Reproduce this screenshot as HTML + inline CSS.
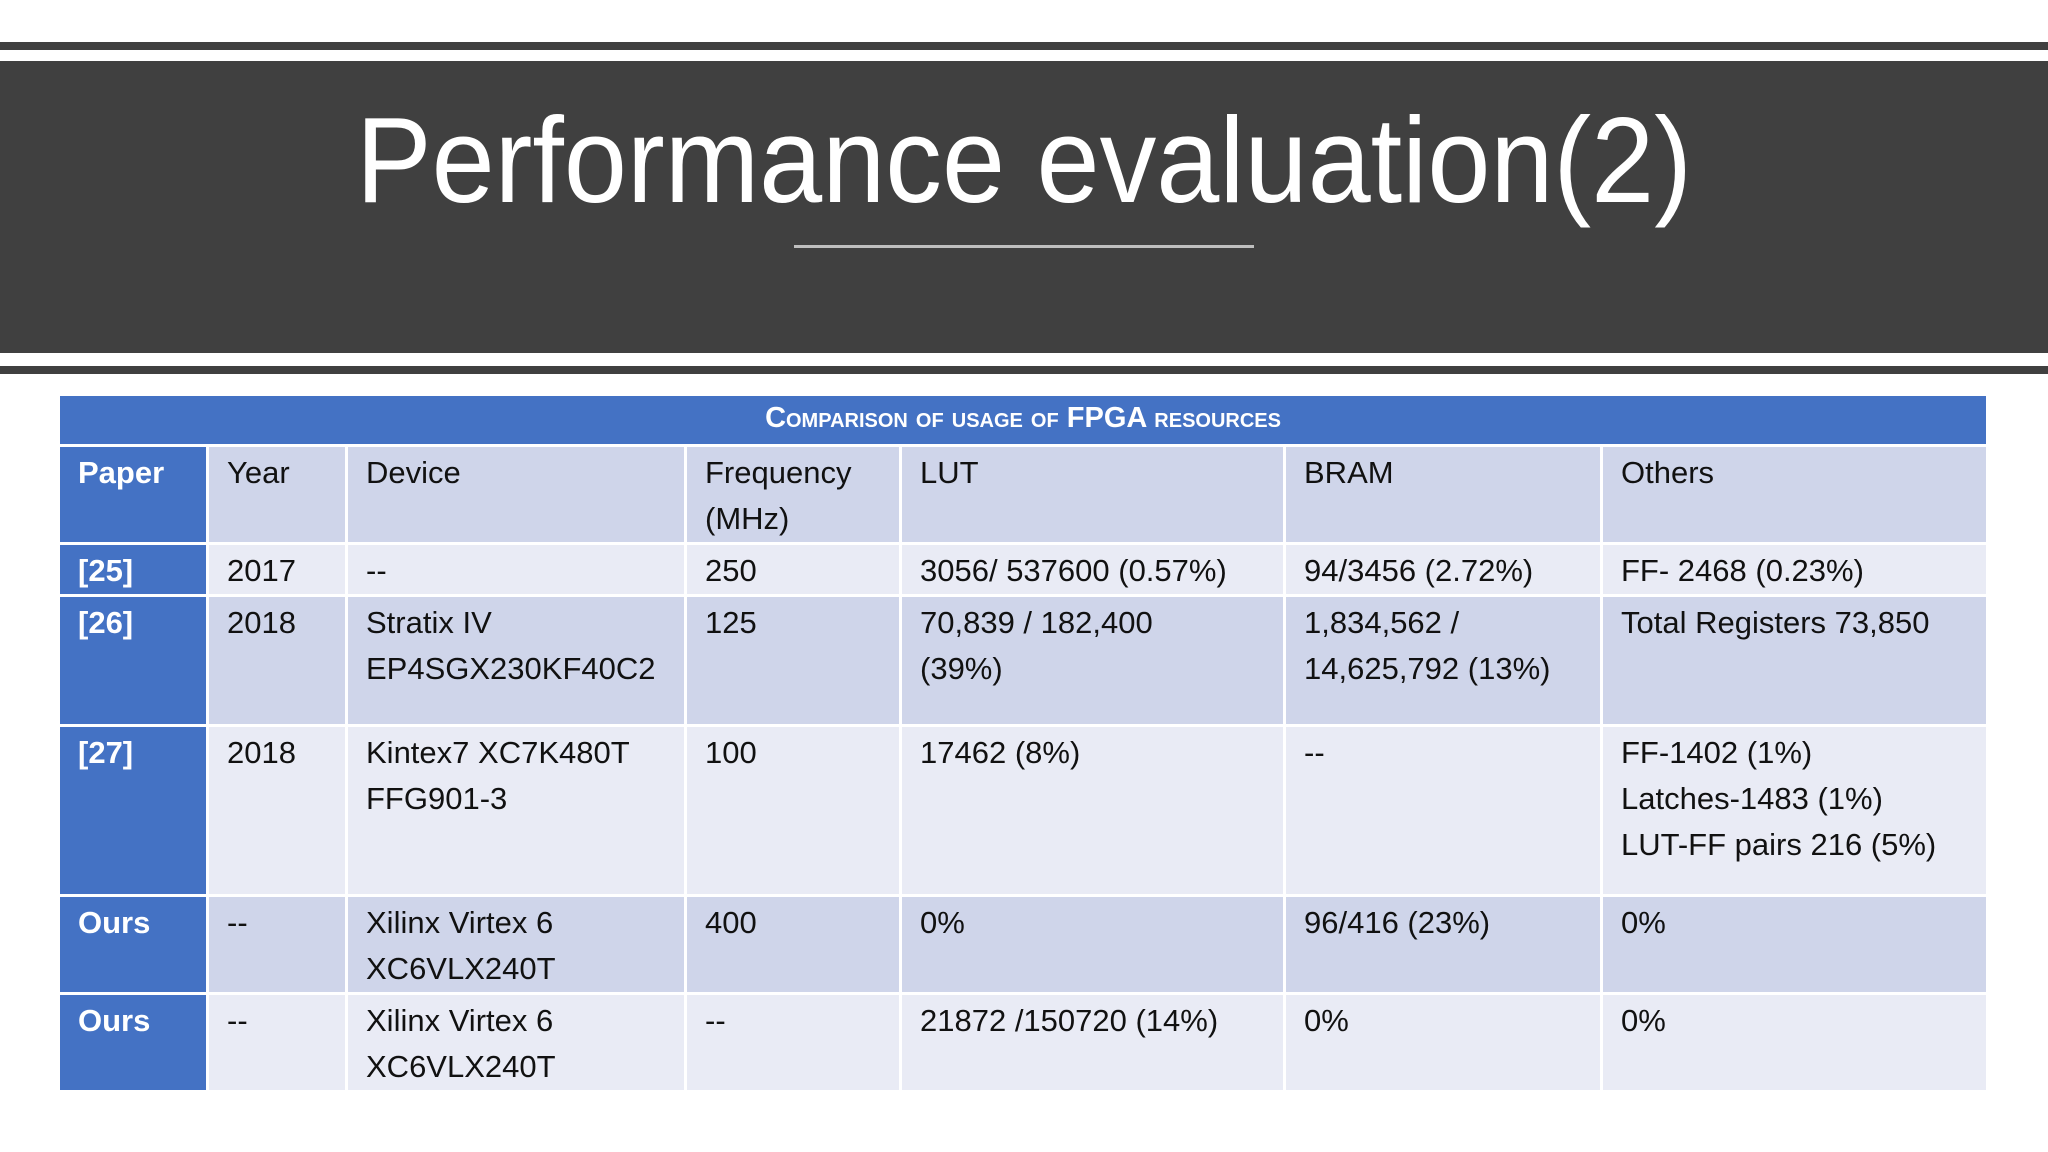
<!DOCTYPE html>
<html><head><meta charset="utf-8"><style>
body{margin:0;width:2048px;height:1152px;background:#fff;position:relative;overflow:hidden;font-family:"Liberation Sans",sans-serif}
.abs{position:absolute}
table{position:absolute;left:57px;top:393px;width:1929px;border-collapse:collapse;table-layout:fixed}
td{border:3px solid #fff;vertical-align:top;padding:3px 0 0 18px;font-size:31px;line-height:46px;color:#111;overflow:hidden;white-space:nowrap}
td.p{background:#4472c4;color:#fff;font-weight:bold}
tr.a td{background:#cfd5ea}
tr.b td{background:#e9ebf5}
tr.a td.p,tr.b td.p{background:#4472c4}
td.cap{background:#4472c4;color:#fff;font-weight:bold;font-variant:small-caps;text-align:center;font-size:29px;line-height:44px;padding:0}
</style></head><body>
<div class="abs" style="left:0;top:42px;width:2048px;height:8px;background:#404040"></div>
<div class="abs" style="left:0;top:61px;width:2048px;height:292px;background:#404040"></div>
<div class="abs" style="left:0;top:366px;width:2048px;height:8px;background:#404040"></div>
<svg class="abs" style="left:0;top:0" width="2048" height="400">
<text x="1024" y="202" text-anchor="middle" fill="#fff" font-family="Liberation Sans, sans-serif" font-size="122" textLength="1336" lengthAdjust="spacingAndGlyphs">Performance evaluation(2)</text>
<rect x="794" y="245" width="460" height="3" fill="#bfbfbf"/>
</svg>
<table>
<colgroup><col style="width:149px"><col style="width:139px"><col style="width:339px"><col style="width:215px"><col style="width:384px"><col style="width:317px"><col style="width:386px"></colgroup>
<tr style="height:51px"><td class="cap" colspan="7">Comparison of usage of FPGA resources</td></tr>
<tr class="a" style="height:90px"><td class="p">Paper</td><td>Year</td><td>Device</td><td>Frequency<br>(MHz)</td><td>LUT</td><td>BRAM</td><td>Others</td></tr>
<tr class="b" style="height:51px"><td class="p">[25]</td><td>2017</td><td>--</td><td>250</td><td>3056/ 537600 (0.57%)</td><td>94/3456 (2.72%)</td><td>FF- 2468 (0.23%)</td></tr>
<tr class="a" style="height:130px"><td class="p">[26]</td><td>2018</td><td>Stratix IV<br>EP4SGX230KF40C2</td><td>125</td><td>70,839 / 182,400<br>(39%)</td><td>1,834,562 /<br>14,625,792 (13%)</td><td>Total Registers 73,850</td></tr>
<tr class="b" style="height:170px"><td class="p">[27]</td><td>2018</td><td>Kintex7 XC7K480T<br>FFG901-3</td><td>100</td><td>17462 (8%)</td><td>--</td><td>FF-1402 (1%)<br>Latches-1483 (1%)<br>LUT-FF pairs 216 (5%)</td></tr>
<tr class="a" style="height:92px"><td class="p">Ours</td><td>--</td><td>Xilinx Virtex 6<br>XC6VLX240T</td><td>400</td><td>0%</td><td>96/416 (23%)</td><td>0%</td></tr>
<tr class="b" style="height:92px"><td class="p">Ours</td><td>--</td><td>Xilinx Virtex 6<br>XC6VLX240T</td><td>--</td><td>21872 /150720 (14%)</td><td>0%</td><td>0%</td></tr>
</table>
</body></html>
